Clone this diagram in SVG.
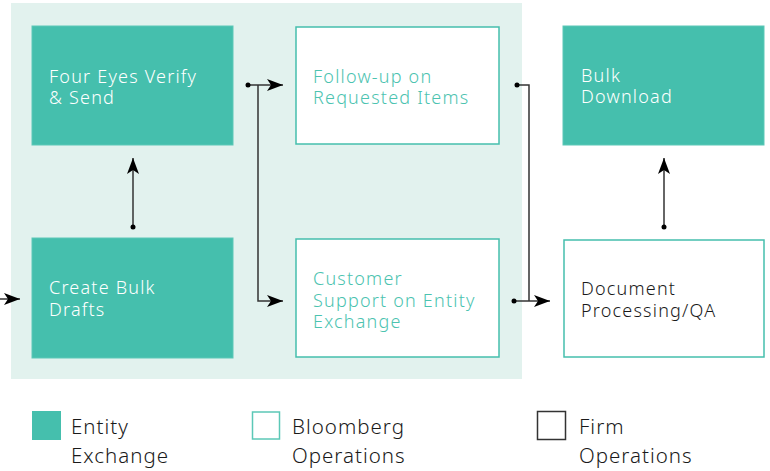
<svg xmlns="http://www.w3.org/2000/svg" width="770" height="471" viewBox="0 0 770 471">
<defs>
<style>
.fill{fill:#45BFAD;stroke:#5CC8B7;stroke-width:1}
.out{fill:#FFFFFF;stroke:#45BFAD;stroke-width:1.5}
.t{font-family:"Noto Sans",sans-serif;font-size:18px;font-weight:300;letter-spacing:1.2px}
.tw{fill:#FFFFFF}
.tt{fill:#4CC3B0}
.tk{fill:#1a1a1a}
.lg{font-family:"Noto Sans",sans-serif;font-size:20.5px;font-weight:300;fill:#1a1a1a;letter-spacing:1px}
.ln{fill:none;stroke:#333333;stroke-width:1.5}
.dot{fill:#000000}
</style>
<marker id="ah" viewBox="0 0 16 12" refX="16" refY="6" markerWidth="16" markerHeight="12" markerUnits="userSpaceOnUse" orient="auto">
<path d="M0,0 L16,6 L0,12 L4,6 Z" fill="#000000"/>
</marker>
</defs>
<rect x="0" y="0" width="770" height="471" fill="#FFFFFF"/>
<rect id="group-bg" x="11" y="3" width="511" height="376" fill="#E2F2EE"/>

<g id="connectors">
<path class="ln" d="M0,299 L20,299" marker-end="url(#ah)"/>
<path class="ln" d="M133,227 L133,158" marker-end="url(#ah)"/>
<path class="ln" d="M248,85 L283,85" marker-end="url(#ah)"/>
<path class="ln" d="M258,85 L258,301 L283,301" marker-end="url(#ah)"/>
<path class="ln" d="M517,85 L529,85 L529,301"/>
<path class="ln" d="M514,301 L550,301" marker-end="url(#ah)"/>
<path class="ln" d="M664,227 L664,158" marker-end="url(#ah)"/>
<circle class="dot" cx="133" cy="227" r="2.5"/>
<circle class="dot" cx="248" cy="85" r="2.5"/>
<circle class="dot" cx="517" cy="85" r="2.5"/>
<circle class="dot" cx="514" cy="301" r="2.5"/>
<circle class="dot" cx="664" cy="227" r="2.5"/>
</g>

<g id="four-eyes">
<rect class="fill" x="32" y="26" width="201" height="119"/>
<text class="t tw" x="49" y="83">Four Eyes Verify</text>
<text class="t tw" x="49" y="104">&amp; Send</text>
</g>
<g id="create-bulk">
<rect class="fill" x="32" y="238" width="201" height="120"/>
<text class="t tw" x="49" y="294">Create Bulk</text>
<text class="t tw" x="49" y="316">Drafts</text>
</g>
<g id="follow-up">
<rect class="out" x="296" y="27" width="203" height="117"/>
<text class="t tt" x="313" y="83">Follow-up on</text>
<text class="t tt" x="313" y="104">Requested Items</text>
</g>
<g id="customer-support">
<rect class="out" x="296" y="239" width="203" height="118"/>
<text class="t tt" x="313" y="285">Customer</text>
<text class="t tt" x="313" y="307">Support on Entity</text>
<text class="t tt" x="313" y="328">Exchange</text>
</g>
<g id="bulk-download">
<rect class="fill" x="563" y="26" width="201" height="119"/>
<text class="t tw" x="581" y="82">Bulk</text>
<text class="t tw" x="581" y="103">Download</text>
</g>
<g id="document-processing">
<rect class="out" x="564" y="240" width="200" height="117"/>
<text class="t tk" x="581" y="295">Document</text>
<text class="t tk" x="581" y="317">Processing/QA</text>
</g>

<g id="legend-entity">
<rect x="32" y="411" width="29" height="29" fill="#45BFAD"/>
<text class="lg" x="71" y="434">Entity</text>
<text class="lg" x="71" y="463">Exchange</text>
</g>
<g id="legend-bloomberg">
<rect x="252.5" y="412" width="27" height="27" fill="#FFFFFF" stroke="#5CC8B7" stroke-width="1.5"/>
<text class="lg" x="292" y="434">Bloomberg</text>
<text class="lg" x="292" y="463">Operations</text>
</g>
<g id="legend-firm">
<rect x="537.5" y="411.5" width="28" height="28" fill="#FFFFFF" stroke="#333333" stroke-width="1.5"/>
<text class="lg" x="579" y="434">Firm</text>
<text class="lg" x="579" y="463">Operations</text>
</g>
</svg>
